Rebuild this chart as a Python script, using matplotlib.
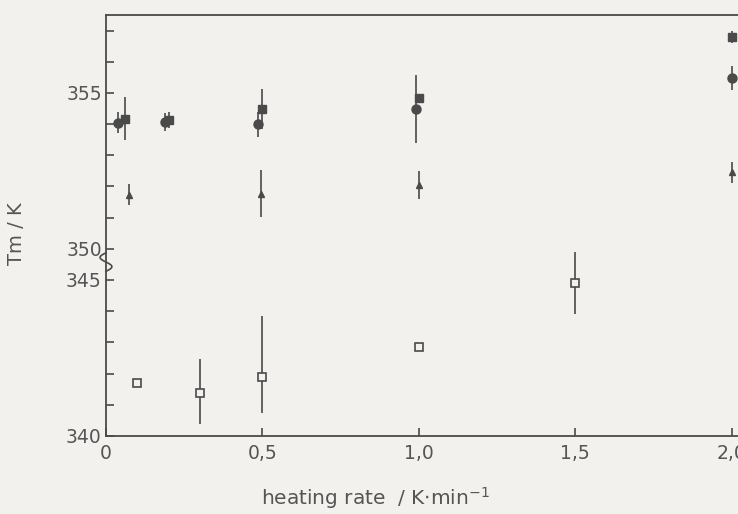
import numpy as np
import matplotlib
matplotlib.use('Agg')
import matplotlib.pyplot as plt
from matplotlib.ticker import FixedLocator, FuncFormatter

# Melting temperature vs heating rate, four sample series
#------------------------------------------------------------------------------
rate_dot = [0.04, 0.19, 0.485, 0.99, 2.0]
tm_dot = [354.05, 354.07, 354.0, 354.48, 355.48]
err_dot = [0.34, 0.3, 0.4, 1.08, 0.38]

rate_sq = [0.06, 0.2, 0.5, 1.0, 2.0]
tm_sq = [354.18, 354.13, 354.48, 354.83, 356.8]
err_sq = [0.7, 0.25, 0.65, 0.1, 0.2]

rate_tri = [0.075, 0.495, 1.0, 2.0]
tm_tri = [351.74, 351.77, 352.06, 352.45]
err_tri = [0.35, 0.75, 0.45, 0.35]

rate_open = [0.1, 0.3, 0.5, 1.0, 1.5]
tm_open = [341.70, 341.38, 341.89, 342.85, 344.9]
err_open_lo = [0.1, 1.0, 1.15, 0.1, 1.0]
err_open_hi = [0.1, 1.08, 1.96, 0.1, 1.0]

xticks = [0, 0.5, 1.0, 1.5, 2.0]
xticklabels = ['0', '0,5', '1,0', '1,5', '2,0']
yticks = [340, 345, 350, 355]
yminor = [341, 342, 343, 344, 351, 352, 353, 354, 356, 357]
#------------------------------------------------------------------------------


# broken y axis: 345..350 squeezed into almost nothing
#------------------------------------------------------------------------------
lo, hi = 345.98, 350.0
def fwd(y):
    y = np.asarray(y, dtype=float)
    mid = 349.98 + (y - lo) * (0.02 / (hi - lo))
    return np.where(y >= hi, y, np.where(y <= lo, y + 4, mid))

def inv(t):
    t = np.asarray(t, dtype=float)
    mid = lo + (t - 349.98) * ((hi - lo) / 0.02)
    return np.where(t >= hi, t, np.where(t <= 349.98, t - 4, mid))
#------------------------------------------------------------------------------


ink = '#4a4a4a'
paper = '#f3f1ee'

fig = plt.figure(figsize=(7.38, 5.14), dpi=100, facecolor=paper)
ax = fig.add_axes([0.1436, 0.152, 1.034 - 0.1436, 0.9708 - 0.152])
ax.set_facecolor(paper)
ax.set_yscale('function', functions=(fwd, inv))

ax.errorbar(rate_dot, tm_dot, yerr=err_dot, fmt='o', ms=6.5, color=ink,
            ecolor=ink, elinewidth=1.2, capsize=0)
ax.errorbar(rate_sq, tm_sq, yerr=err_sq, fmt='s', ms=5.5, color=ink,
            ecolor=ink, elinewidth=1.2, capsize=0)
ax.errorbar(rate_tri, tm_tri, yerr=err_tri, fmt='^', ms=4.5, color=ink,
            ecolor=ink, elinewidth=1.2, capsize=0)
ax.errorbar(rate_open, tm_open, yerr=[err_open_lo, err_open_hi], fmt='s',
            ms=5.5, mfc=paper, mec=ink, mew=1.2, color=ink, ecolor=ink,
            elinewidth=1.2, capsize=0)

ax.set_xlim(0, 2.1)
ax.set_ylim(340, 357.5)

ax.set_xticks(xticks)
ax.set_xticklabels(xticklabels)
ax.yaxis.set_major_locator(FixedLocator(yticks))
ax.yaxis.set_minor_locator(FixedLocator(yminor))
ax.yaxis.set_major_formatter(FuncFormatter(lambda v, p: '%d' % round(v)))

ax.tick_params(axis='both', which='both', direction='in', color=ink,
               labelcolor='#555555', labelsize=13.5, width=1.2)
ax.tick_params(axis='both', which='major', length=6, pad=3)
ax.tick_params(axis='y', which='minor', length=6)
ax.tick_params(axis='x', pad=6)

for s in ax.spines.values():
    s.set_color(ink)
    s.set_linewidth(1.3)

# S-shaped squiggle marking the break on the left spine (axes coords)
yy = np.linspace(-1, 1, 40)
sq_y = 0.413 + yy * 0.022
sq_x = -0.009 * np.sin(yy * np.pi)
ax.plot(sq_x, sq_y, color=ink, lw=1.2, clip_on=False, zorder=5,
        transform=ax.transAxes)

ax.set_ylabel('Tm / K', color='#555555', fontsize=14)
ax.yaxis.set_label_coords(-0.122, 0.48)
ax.set_xlabel('heating rate  / K$\\cdot$min$^{-1}$', color='#555555',
              fontsize=14.5)
ax.xaxis.set_label_coords(0.41, -0.118)

fig.savefig('out.png', dpi=100, facecolor=paper)
